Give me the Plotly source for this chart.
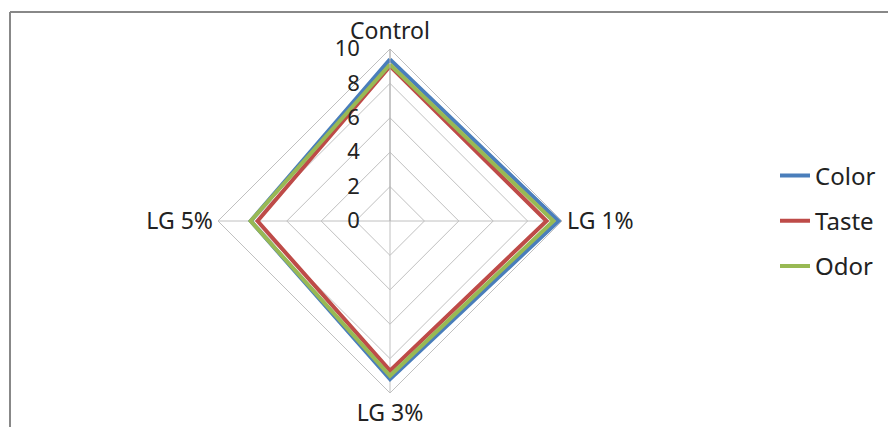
import plotly.graph_objects as go

categories = ["Control", "LG 1%", "LG 3%", "LG 5%"]
color_vals = [9.4, 9.8, 9.2, 8.1]
taste_vals = [9.0, 9.1, 8.7, 7.7]
odor_vals = [9.1, 9.5, 9.0, 8.1]
series_names = ["Color", "Taste", "Odor"]
series_colors = ["#4a7ebb", "#be4b48", "#98b954"]
radial_ticks = [0, 2, 4, 6, 8, 10]

W, H = 896, 427
OFF = 8  # page body margin
cx, cy, R = 390 - OFF, 221 - OFF, 172

fig = go.Figure()
for name, vals, col in zip(series_names, [color_vals, taste_vals, odor_vals], series_colors):
    fig.add_trace(go.Scatterpolar(
        r=vals + vals[:1], theta=categories + categories[:1],
        mode="lines", name=name, legendgroup=name,
        line=dict(color=col, width=4),
    ))

fig.update_layout(
    width=W, height=H,
    margin=dict(l=0, r=0, t=0, b=0),
    paper_bgcolor="white",
    font=dict(family="Noto Sans", color="#222222"),
    polar=dict(
        domain=dict(x=[(cx - R) / W, (cx + R) / W], y=[(H - cy - R) / H, (H - cy + R) / H]),
        bgcolor="white",
        gridshape="linear",
        angularaxis=dict(
            rotation=90, direction="clockwise",
            linecolor="#c0c0c0", linewidth=1,
            gridcolor="#c0c0c0", gridwidth=1,
            ticks="", tickfont=dict(size=23, color="#222222"),
        ),
        radialaxis=dict(
            range=[0, 10], tickvals=radial_ticks, angle=90, side="counterclockwise",
            linecolor="#b0b0b0", linewidth=1, showline=True,
            gridcolor="#c0c0c0", gridwidth=1,
            ticks="outside", ticklen=22, tickcolor="rgba(0,0,0,0)",
            tickfont=dict(size=22, color="#222222"), tickangle=90,
        ),
    ),
    legend=dict(
        x=(815 - OFF - 40) / W, y=(H - (221 - OFF)) / H, xanchor="left", yanchor="middle",
        font=dict(size=24, color="#222222"), tracegroupgap=11,
        bgcolor="rgba(0,0,0,0)",
    ),
    shapes=[
        dict(type="line", xref="paper", yref="paper", x0=(10 - OFF) / W, x1=1.02,
             y0=1 - (12 - OFF) / H, y1=1 - (12 - OFF) / H,
             line=dict(color="#888888", width=2)),
        dict(type="line", xref="paper", yref="paper", x0=(10 - OFF) / W, x1=(10 - OFF) / W,
             y0=-0.05, y1=1 - (12 - OFF) / H,
             line=dict(color="#888888", width=2)),
    ],
)

fig.write_html("out.html")
